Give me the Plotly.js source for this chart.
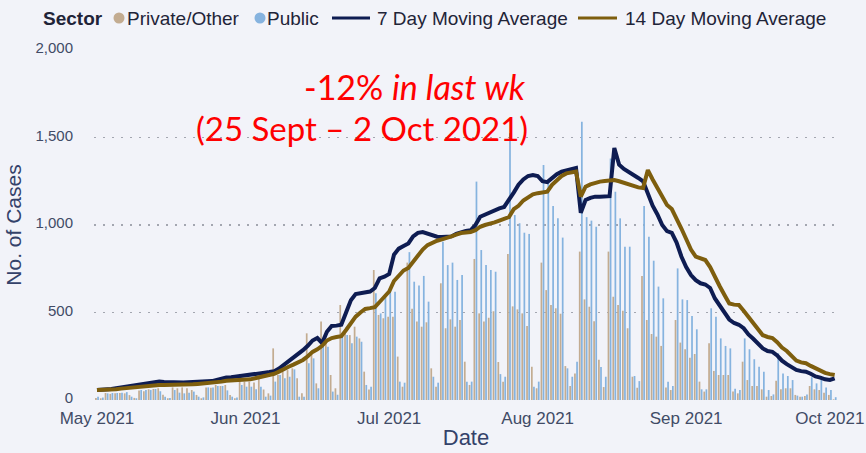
<!DOCTYPE html>
<html>
<head>
<meta charset="utf-8">
<script src="https://cdn.plot.ly/plotly-3.0.1.min.js"></script>
<style>
html,body{margin:0;padding:0;background:#f2f3f9;}
#chart{width:866px;height:453px;}
</style>
</head>
<body>
<div id="chart"></div>
<script>
// Daily series, 1 May 2021 (Sat) to 2 Oct 2021
const startDate = [2021, 4, 1];
const privateOther = [
  12, 10,
  40, 35, 38, 40, 38, 28, 12,
  55, 50, 61, 63, 67, 30, 10,
  72, 67, 72, 67, 57, 29, 10,
  72, 70, 86, 80, 86, 28, 10,
  149, 105, 105, 100, 124, 60, 38,
  295, 143, 162, 171, 181, 124, 38,
  381, 276, 95, 448, 330, 143, 67,
  543, 400, 371, 419, 352, 162, 60,
  743, 486, 467, 476, 476, 248, 76,
  785, 522, 448, 419, 444, 181, 76,
  667, 410, 461, 419, 457, 219, 86,
  806, 495, 448, 470, 507, 217, 105,
  834, 535, 518, 495, 423, 190, 67,
  785, 628, 543, 524, 493, 194, 80,
  152, 848, 575, 533, 450, 230, 74,
  848, 590, 543, 510, 410, 133, 70,
  709, 457, 377, 362, 309, 72, 57,
  457, 328, 290, 242, 263, 105, 48,
  324, 166, 143, 143, 143, 48, 38,
  219, 114, 80, 80, 61, 19, 23,
  110, 61, 67, 67, 29, 19, 23,
  80, 61, 57, 42, 29, 4
];
const publicSector = [
  18, 14,
  38, 40, 40, 42, 45, 19, 10,
  57, 57, 57, 63, 50, 19, 12,
  57, 42, 38, 42, 48, 19, 15,
  72, 72, 80, 80, 55, 19, 15,
  86, 76, 76, 61, 76, 19, 25,
  105, 143, 124, 133, 175, 19, 19,
  210, 238, 67, 305, 305, 48, 30,
  381, 371, 324, 362, 333, 86, 76,
  610, 495, 600, 638, 619, 105, 99,
  845, 676, 655, 709, 562, 133, 99,
  905, 771, 785, 686, 714, 105, 105,
  1248, 857, 771, 743, 733, 148, 133,
  1524, 1057, 1010, 956, 949, 76, 105,
  1343, 1248, 1109, 1038, 928, 181, 133,
  219, 1590, 1045, 1025, 990, 188, 133,
  1380, 1190, 1038, 876, 876, 137, 108,
  1109, 933, 796, 648, 581, 105, 80,
  752, 575, 571, 480, 404, 61, 61,
  524, 476, 352, 309, 295, 64, 57,
  352, 290, 233, 190, 162, 57, 32,
  267, 152, 137, 114, 25, 19, 32,
  130, 95, 114, 72, 57, 16
];
const ma7 = [
  57, 58, 60, 63, 68, 72, 76,
  80, 85, 90, 95, 100, 104, 105,
  103, 101, 99, 99, 100, 101, 102,
  103, 104, 105, 108, 115, 122, 128,
  130, 133, 137, 140, 143, 147, 152,
  156, 160, 165, 180, 200, 222, 240,
  262, 285, 310, 340, 354, 325, 390,
  423, 425, 430, 500, 570, 605, 610,
  613, 620, 640, 695, 705, 720, 830,
  865, 880, 895, 935, 955, 960, 950,
  940, 933, 932, 931, 935, 950, 960,
  966, 970, 1000, 1047, 1060, 1070, 1085,
  1095, 1103, 1140, 1185, 1230, 1260, 1280,
  1286, 1280, 1250, 1245, 1270, 1290, 1305,
  1312, 1320, 1326, 1070, 1143, 1155, 1162,
  1162, 1162, 1165, 1440, 1345, 1320, 1305,
  1285, 1269, 1250, 1180, 1110, 1060, 1000,
  965, 955, 900, 820, 760, 714, 685,
  667, 660, 640, 580, 540, 500, 460,
  440, 430, 410, 375, 350, 325, 295,
  280, 275, 255, 225, 205, 190, 172,
  165, 162, 150, 135, 128, 118, 115,
  124
];
const ma14 = [
  57, 57, 58, 60, 62, 65, 68,
  71, 74, 77, 80, 83, 85, 86,
  86, 86, 86, 87, 88, 89, 90,
  92, 94, 95, 97, 100, 105, 110,
  111, 112, 113, 114, 118, 124, 130,
  136, 142, 150, 162, 178, 190, 202,
  215, 229, 250, 275, 290, 310, 340,
  354, 360, 365, 400, 440, 476, 500,
  520, 525, 531, 560, 590, 620, 680,
  714, 740, 755, 790, 830, 860, 885,
  900, 910, 918, 924, 935, 945, 954,
  957, 960, 970, 990, 1000, 1006, 1015,
  1025, 1035, 1045, 1090, 1110, 1140, 1160,
  1175, 1182, 1186, 1190, 1230, 1257, 1280,
  1295, 1300, 1305, 1162, 1219, 1232, 1242,
  1248, 1252, 1257, 1257, 1250, 1240, 1235,
  1225, 1215, 1211, 1314, 1260, 1215, 1170,
  1114, 1091, 1040, 980, 920, 860, 819,
  808, 800, 760, 700, 650, 600, 552,
  545, 543, 510, 475, 448, 410, 370,
  360, 354, 330, 300, 280, 250, 225,
  215, 210, 195, 180, 165, 155, 148,
  143
];
const yTicks = [0, 500, 1000, 1500, 2000];
const legendLabels = ['Private/Other', 'Public', '7 Day Moving Average', '14 Day Moving Average'];
const headline = '-12% <i>in last wk</i>';
const subline = '(25 Sept \u2013 2 Oct 2021)';

const dates = privateOther.map((_, i) => {
  const d = new Date(Date.UTC(startDate[0], startDate[1], startDate[2] + i));
  return d.toISOString().slice(0, 10);
});

const C = {
  priv: '#c3ac91', pub: '#86b3df', ma7: '#0e1c52', ma14: '#7e5e0e',
  bg: '#f2f3f9', tick: '#414b66', title: '#34426a', legend: '#1f2438'
};
const FONT = 'Liberation Sans, Arial, sans-serif';

const traces = [
  {type: 'bar', x: dates, y: privateOther, name: legendLabels[0], marker: {color: C.priv}, showlegend: false},
  {type: 'bar', x: dates, y: publicSector, name: legendLabels[1], marker: {color: C.pub}, showlegend: false},
  {type: 'scatter', mode: 'lines', x: dates, y: ma7, name: legendLabels[2], line: {color: C.ma7, width: 4}, showlegend: false},
  {type: 'scatter', mode: 'lines', x: dates, y: ma14, name: legendLabels[3], line: {color: C.ma14, width: 4}, showlegend: false}
];

// plot area geometry in pixels
const L = 94, R = 838, T = 50, B = 400;
const px = v => (v - L) / (R - L);
const py = v => (B - v) / (B - T);
const legY = 18;

const ann = [];
const shapes = [];
function legText(text, x, bold) {
  ann.push({xref: 'paper', yref: 'paper', x: px(x), y: py(legY), xanchor: 'left', yanchor: 'middle',
    text: bold ? '<b>' + text + '</b>' : text, showarrow: false,
    font: {family: FONT, size: 19, color: C.legend}});
}
legText('Sector', 41, true);
shapes.push({type: 'circle', xref: 'paper', yref: 'paper', x0: px(113.5), x1: px(124.5), y0: py(legY + 5.5), y1: py(legY - 5.5), fillcolor: C.priv, line: {width: 0}});
legText(legendLabels[0], 125, false);
shapes.push({type: 'circle', xref: 'paper', yref: 'paper', x0: px(254.5), x1: px(265.5), y0: py(legY + 5.5), y1: py(legY - 5.5), fillcolor: C.pub, line: {width: 0}});
legText(legendLabels[1], 265, false);
shapes.push({type: 'line', xref: 'paper', yref: 'paper', x0: px(332), x1: px(370), y0: py(legY), y1: py(legY), line: {color: C.ma7, width: 3}});
legText(legendLabels[2], 375, false);
shapes.push({type: 'line', xref: 'paper', yref: 'paper', x0: px(578), x1: px(617), y0: py(legY), y1: py(legY), line: {color: C.ma14, width: 3}});
legText(legendLabels[3], 623, false);

ann.push({xref: 'paper', yref: 'paper', x: px(415), y: py(86), xanchor: 'center', yanchor: 'middle',
  text: headline, showarrow: false, font: {family: 'Lato, Open Sans, sans-serif', size: 34, color: '#ff0000'}});
ann.push({xref: 'paper', yref: 'paper', x: px(362), y: py(128), xanchor: 'center', yanchor: 'middle',
  text: subline, showarrow: false, font: {family: 'Lato, Open Sans, sans-serif', size: 33, color: '#ff0000'}});

const dayMs = 86400000;
const t0 = Date.UTC(2021, 4, 1);
const x0px = 97, pxPerDay = 4.79;
const rangeStart = new Date(t0 - (x0px - L) / pxPerDay * dayMs).toISOString();
const rangeEnd = new Date(t0 + (R - x0px) / pxPerDay * dayMs).toISOString();

const layout = {
  width: 866, height: 453,
  margin: {l: L, r: 866 - R, t: T, b: 453 - B},
  paper_bgcolor: C.bg, plot_bgcolor: C.bg,
  barmode: 'group', bargap: 0.12, bargroupgap: 0.18,
  showlegend: false,
  hovermode: false,
  font: {family: FONT},
  xaxis: {
    type: 'date', range: [rangeStart, rangeEnd],
    tick0: '2021-05-01', dtick: 'M1', tickformat: '%b %Y',
    showgrid: false, zeroline: false, showline: false, ticks: '',
    ticklabelstandoff: 6,
    tickfont: {family: FONT, size: 17, color: C.tick},
    title: {text: 'Date', font: {family: FONT, size: 22, color: C.title}, standoff: 2},
    automargin: false
  },
  yaxis: {
    range: [0, 2000], tickvals: yTicks, tickformat: ',d',
    showgrid: true, gridcolor: '#a3a6b0', gridwidth: 1.6, griddash: '2px,7px',
    zeroline: false, showline: false, ticks: '',
    ticklabelstandoff: 20, ticklabelshift: -2,
    tickfont: {family: FONT, size: 15, color: C.tick},
    title: {text: 'No. of Cases', font: {family: FONT, size: 21, color: C.title}, standoff: 8},
    automargin: false
  },
  annotations: ann,
  shapes: shapes
};

Plotly.newPlot('chart', traces, layout, {displayModeBar: false, staticPlot: true});
</script>
</body>
</html>
